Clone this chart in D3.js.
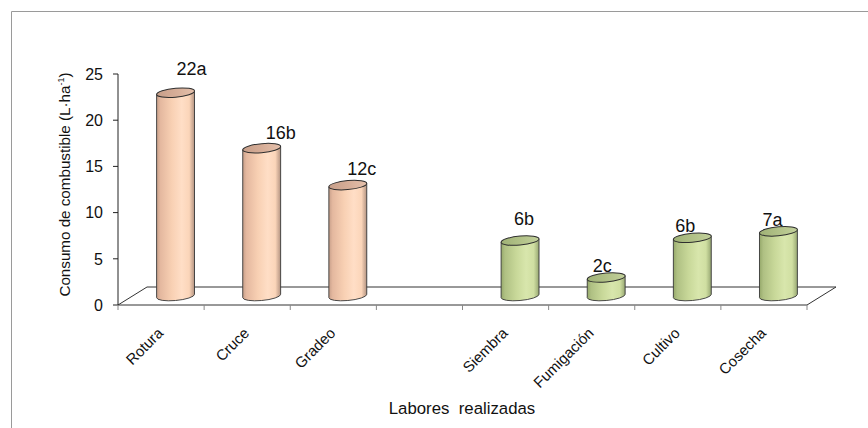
<!DOCTYPE html>
<html>
<head>
<meta charset="utf-8">
<script src="https://cdn.jsdelivr.net/npm/d3@7"></script>
<style>
  html, body { margin: 0; padding: 0; background: #fff; }
  svg { display: block; font-family: "Liberation Sans", Arial, sans-serif; }
</style>
</head>
<body>
<svg id="chart" width="868" height="428"></svg>
<script>
// Consumo de combustible por labor (L·ha-1); the empty slot separates the two groups
const categories = ["Rotura", "Cruce", "Gradeo", "", "Siembra", "Fumigación", "Cultivo", "Cosecha"];
const consumo    = [22, 16, 12, null, 6, 2, 6.3, 7];
const letras     = ["a", "b", "c", null, "b", "c", "b", "a"];
const grupo      = ["suelo", "suelo", "suelo", null, "cultivo", "cultivo", "cultivo", "cultivo"];
const yTicks     = [0, 5, 10, 15, 20, 25];
const yTitle     = "Consumo de combustible (L·ha";
const yTitleExp  = "-1";
const xTitle     = "Labores  realizadas";

const svg = d3.select("#chart");

// plot geometry
const plotLeft = 118, plotRight = 807, plotBottom = 305, plotTop = 74;
const depthX = 29, depthY = -18;           // oblique depth of the floor

const x = d3.scaleBand().domain(d3.range(categories.length)).range([plotLeft, plotRight]);
const y = d3.scaleLinear().domain([0, 25]).range([plotBottom, plotTop]);

// outer frame
svg.append("path")
  .attr("d", "M11.5,428 L11.5,11.5 L868,11.5")
  .attr("fill", "none").attr("stroke", "#9a9a9a").attr("stroke-width", 1);

// gradients for the cylinder bodies and caps
const defs = svg.append("defs");
const palettes = {
  suelo: {
    body: ["#c8a08a", "#e4b89f", "#f8d0b3", "#ffdec6", "#fbd5b9", "#b39381"],
    cap:  ["#c79f8a", "#d6ad97", "#e4c0ab"]
  },
  cultivo: {
    body: ["#95a86a", "#afc083", "#c8d899", "#d8e6ac", "#d0dfa2", "#97a772"],
    cap:  ["#9fb176", "#b1c187", "#c2d09b"]
  }
};
const bodyOffs = [0, 0.1, 0.4, 0.66, 0.86, 1];
const capOffs = [0, 0.5, 1];
Object.entries(palettes).forEach(([k, p]) => {
  const g = defs.append("linearGradient").attr("id", "body-" + k)
    .attr("x1", 0).attr("x2", 1).attr("y1", 0).attr("y2", 0);
  p.body.forEach((c, i) => g.append("stop").attr("offset", bodyOffs[i]).attr("stop-color", c));
  const h = defs.append("linearGradient").attr("id", "cap-" + k)
    .attr("x1", 0).attr("x2", 1).attr("y1", 0).attr("y2", 0);
  p.cap.forEach((c, i) => h.append("stop").attr("offset", capOffs[i]).attr("stop-color", c));
});

// floor (parallelogram)
const floorPts = [[plotLeft, plotBottom], [plotRight, plotBottom],
                  [plotRight + depthX, plotBottom + depthY], [plotLeft + depthX, plotBottom + depthY]];
svg.append("path")
  .attr("d", "M" + floorPts.map(p => p.join(",")).join("L") + "Z")
  .attr("fill", "none").attr("stroke", "#333").attr("stroke-width", 1);

// value axis
svg.append("line")
  .attr("x1", plotLeft).attr("x2", plotLeft).attr("y1", plotTop).attr("y2", plotBottom)
  .attr("stroke", "#222").attr("stroke-width", 1);
svg.selectAll(".ytick").data(yTicks).join("line")
  .attr("x1", plotLeft - 5).attr("x2", plotLeft)
  .attr("y1", d => y(d)).attr("y2", d => y(d))
  .attr("stroke", "#222");
svg.selectAll(".ylab").data(yTicks).join("text")
  .attr("x", plotLeft - 15).attr("y", d => y(d)).attr("dy", "0.36em")
  .attr("text-anchor", "end").attr("font-size", 16).attr("fill", "#111")
  .text(d => d);

// category ticks at band edges
const edges = d3.range(categories.length + 1).map(i => plotLeft + i * x.step());
svg.selectAll(".xtick").data(edges).join("line")
  .attr("x1", d => d).attr("x2", d => d)
  .attr("y1", plotBottom).attr("y2", plotBottom + 5)
  .attr("stroke", "#888");

// category labels
svg.selectAll(".xlab").data(categories).join("text")
  .attr("transform", (d, i) => `translate(${x(i) + x.bandwidth() / 2 + 3},${plotBottom + 29}) rotate(-45)`)
  .attr("text-anchor", "end").attr("font-size", 15).attr("fill", "#111")
  .text(d => d);

// cylinders
const w = x.bandwidth() * 0.44, rx = w / 2, ry = 4.5;
const bars = categories.map((c, i) => ({ i, v: consumo[i], g: grupo[i], l: letras[i] }))
  .filter(d => d.v != null);

const cyl = svg.selectAll(".cyl").data(bars).join("g")
  .attr("transform", d => `translate(${x(d.i) + x.bandwidth() / 2 + depthX / 2},0) skewY(-5)`);

cyl.append("path")
  .attr("d", d => {
    const yb = y(0) + depthY / 2, yTop = y(d.v) + depthY / 2;
    return `M${-rx},${yTop} L${-rx},${yb} A${rx},${ry} 0 0 0 ${rx},${yb} L${rx},${yTop} Z`;
  })
  .attr("fill", d => `url(#body-${d.g})`)
  .attr("stroke", "#3a3a3a").attr("stroke-width", 0.9);

cyl.append("ellipse")
  .attr("cx", 0).attr("cy", d => y(d.v) + depthY / 2)
  .attr("rx", rx).attr("ry", ry)
  .attr("fill", d => `url(#cap-${d.g})`)
  .attr("stroke", "#2e2e2e").attr("stroke-width", 1);

// value labels (placement nudges per bar)
const nudge = { 0: [16, -18], 1: [19, -9], 2: [14, -10], 4: [4, -16], 5: [-4, -6], 6: [-7, -6], 7: [-6, -5] };
svg.selectAll(".vlab").data(bars).join("text")
  .attr("x", d => x(d.i) + x.bandwidth() / 2 + depthX / 2 + nudge[d.i][0])
  .attr("y", d => y(d.v) + depthY / 2 + nudge[d.i][1])
  .attr("text-anchor", "middle").attr("font-size", 18).attr("fill", "#111")
  .text(d => d3.format(".0f")(d.v) + d.l);

// axis titles
const yTitleText = svg.append("text")
  .attr("transform", `translate(70,${(plotTop + plotBottom) / 2 - 5}) rotate(-90)`)
  .attr("text-anchor", "middle").attr("font-size", 15.2).attr("fill", "#111");
yTitleText.append("tspan").text(yTitle);
yTitleText.append("tspan").attr("font-size", 9).attr("dy", -6).text(yTitleExp);
yTitleText.append("tspan").attr("dy", 6).text(")");

svg.append("text")
  .attr("x", 462).attr("y", 414)
  .attr("text-anchor", "middle").attr("font-size", 16.8).attr("fill", "#111")
  .style("white-space", "pre")
  .text(xTitle);
</script>
</body>
</html>
